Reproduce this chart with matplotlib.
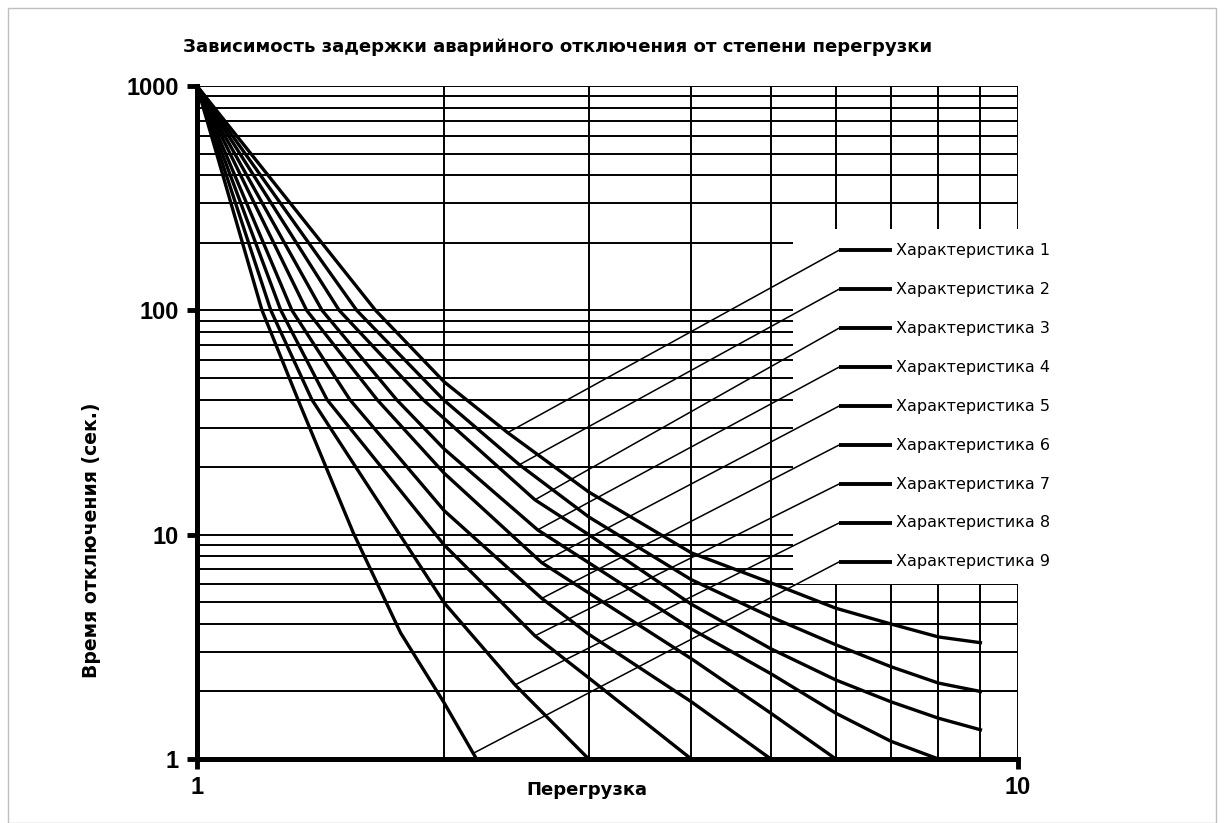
import numpy as np
import matplotlib.pyplot as plt
from matplotlib.patches import Rectangle
from matplotlib.ticker import LogLocator, NullFormatter, FixedLocator, FixedFormatter

# Кривые: перегрузка (x) -> время отключения, с (y)
x_c1 = [1, 1.65, 2.0, 2.39, 3, 4, 5, 6, 7, 8, 9]
y_c1 = [1000, 100, 48, 28.5, 15.5, 8.3, 6.1, 4.7, 4.0, 3.5, 3.3]
x_c2 = [1, 1.565, 1.995, 2.47, 3, 4, 5, 6, 7, 8, 9]
y_c2 = [1000, 100, 40, 20.5, 12, 6.3, 4.3, 3.23, 2.58, 2.18, 2.0]
x_c3 = [1, 1.49, 1.885, 2.58, 3, 4, 5, 6, 7, 8, 9]
y_c3 = [1000, 100, 40, 14.3, 10, 4.9, 3.1, 2.25, 1.8, 1.52, 1.35]
x_c4 = [1, 1.42, 1.75, 2.0, 2.60, 3, 4, 5, 6, 7, 8]
y_c4 = [1000, 100, 40, 24.1, 10.5, 7.5, 3.8, 2.4, 1.6, 1.2, 1.0]
x_c5 = [1, 1.36, 1.657, 2.0, 2.63, 3, 4, 5, 6]
y_c5 = [1000, 100, 40, 18.8, 7.5, 5.5, 2.8, 1.6, 1.0]
x_c6 = [1, 1.305, 1.535, 2.0, 2.63, 3, 4, 5]
y_c6 = [1000, 100, 40, 12.8, 5.2, 3.6, 1.8, 1.0]
x_c7 = [1, 1.265, 1.44, 2.0, 2.58, 3, 4]
y_c7 = [1000, 100, 40, 9.0, 3.54, 2.3, 1.0]
x_c8 = [1, 1.23, 1.38, 2.0, 2.44, 3]
y_c8 = [1000, 100, 40, 4.97, 2.14, 1.0]
x_c9 = [1, 1.20, 1.335, 1.55, 1.77, 2.0, 2.19]
y_c9 = [1000, 100, 38, 10.2, 3.65, 1.78, 1.0]

labels = ["Характеристика %d" % i for i in range(1, 10)]
# точка на кривой, к которой идёт выноска подписи
leader_x = [2.39, 2.47, 2.58, 2.60, 2.63, 2.63, 2.58, 2.44, 2.17]

curves = [(x_c1, y_c1), (x_c2, y_c2), (x_c3, y_c3), (x_c4, y_c4), (x_c5, y_c5),
          (x_c6, y_c6), (x_c7, y_c7), (x_c8, y_c8), (x_c9, y_c9)]

W, H = 1224, 823
fig = plt.figure(figsize=(W / 100, H / 100), dpi=100)
ax = fig.add_axes([197 / W, 1 - 759 / H, 821 / W, 673 / H])

ax.set_xscale('log')
ax.set_yscale('log')
ax.set_xlim(1, 10)
ax.set_ylim(1, 1000)

# сетка
ax.set_axisbelow(True)
ax.grid(which='both', color='black', lw=1.4)
ax.xaxis.set_minor_locator(LogLocator(subs=np.arange(2, 10)))
ax.yaxis.set_minor_locator(LogLocator(subs=np.arange(2, 10)))
ax.xaxis.set_minor_formatter(NullFormatter())
ax.yaxis.set_minor_formatter(NullFormatter())
ax.tick_params(which='minor', length=0)

ax.xaxis.set_major_locator(FixedLocator([1, 10]))
ax.xaxis.set_major_formatter(FixedFormatter(['1', '10']))
ax.yaxis.set_major_locator(FixedLocator([1, 10, 100, 1000]))
ax.yaxis.set_major_formatter(FixedFormatter(['1', '10', '100', '1000']))
ax.tick_params(which='major', length=7, width=3.5, direction='out', pad=6)
ax.tick_params(axis='x', which='major', pad=5)
for lab in ax.get_xticklabels() + ax.get_yticklabels():
    lab.set_fontfamily(['Liberation Sans', 'DejaVu Sans'])
    lab.set_fontweight('bold')
    lab.set_fontsize(17)

for s in ['top', 'right']:
    ax.spines[s].set_visible(False)
for s in ['left', 'bottom']:
    ax.spines[s].set_linewidth(3.6)

# белая область под подписями (сетка там не видна)
ax.add_patch(Rectangle((5.32, 6.05), 5.3, 224, facecolor='white',
                       edgecolor='none', zorder=1, clip_on=False))

for xs, ys in curves:
    ax.plot(xs, ys, color='black', lw=2.4, zorder=3, solid_joinstyle='round')

# подписи с выносками
row_top, row_step = 0.756, 0.0579
for i, (xs, ys) in enumerate(curves):
    yl = row_top - i * row_step
    ya = 10 ** np.interp(np.log10(leader_x[i]), np.log10(xs), np.log10(ys))
    ax.annotate('', xy=(leader_x[i], ya), xycoords='data',
                xytext=(0.782, yl), textcoords='axes fraction',
                arrowprops=dict(arrowstyle='-', lw=1.1, color='black',
                                shrinkA=0, shrinkB=0), zorder=4)
    ax.plot([0.782, 0.846], [yl, yl], transform=ax.transAxes, color='black',
            lw=2.8, solid_capstyle='butt', zorder=4, clip_on=False)
    ax.text(0.851, yl, labels[i], transform=ax.transAxes, va='center', ha='left',
            fontsize=11.5, family=['Liberation Sans Narrow', 'DejaVu Sans'], zorder=5)

fig.text(558 / W, 1 - 47 / H, 'Зависимость задержки аварийного отключения от степени перегрузки',
         ha='center', va='center', fontsize=13.1, fontweight='bold',
         family=['Liberation Sans Narrow', 'DejaVu Sans'])
fig.text(92 / W, 1 - 540 / H, 'Время отключения (сек.)', rotation=90,
         ha='center', va='center', fontsize=13.6, fontweight='bold',
         family=['Liberation Sans Narrow', 'DejaVu Sans'])
fig.text(587 / W, 1 - 790 / H, 'Перегрузка', ha='center', va='center',
         fontsize=13, fontweight='bold',
         family=['Liberation Sans Narrow', 'DejaVu Sans'])

fig.add_artist(Rectangle((8 / W, 0), 1208 / W, 1 - 8 / H, transform=fig.transFigure,
                         fill=False, edgecolor='#bfbfbf', lw=1))

fig.savefig('out.png', dpi=100)
